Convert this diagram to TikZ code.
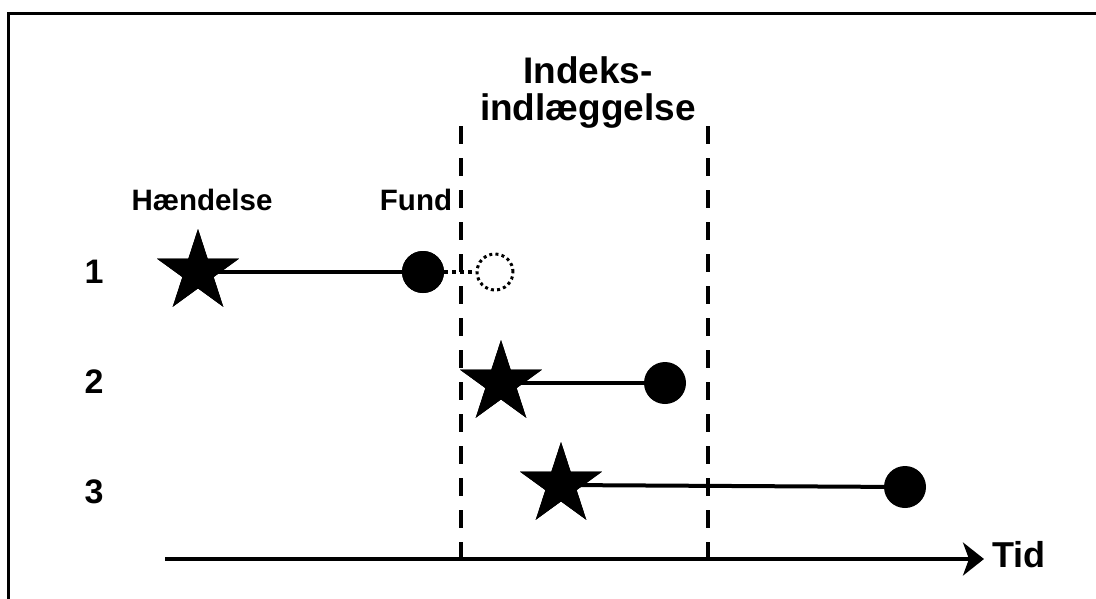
\documentclass[tikz,border=0pt]{standalone}
\usepackage{fontspec}
\setmainfont{Liberation Sans}
\usetikzlibrary{shapes.geometric,arrows.meta}
\begin{document}
\begin{tikzpicture}[x=1pt,y=-1pt,
  event/.style={star,star points=5,star point ratio=2.618,fill=black,draw=none,inner sep=0pt,minimum size=86pt},
  found/.style={circle,fill=black,draw=none,inner sep=0pt,minimum size=42pt},
  ghost/.style={circle,draw=black,line width=3pt,dash pattern=on 3pt off 3.2pt,inner sep=0pt,minimum size=36pt},
  span/.style={line width=4pt},
  limit/.style={line width=4pt,dash pattern=on 18pt off 14pt},
  lbl/.style={anchor=base,inner sep=0pt},
  headfont/.style={font=\bfseries\fontsize{29.5}{29.5}\selectfont},
  rowfont/.style={font=\bfseries\fontsize{34}{34}\selectfont},
  idxfont/.style={font=\bfseries\fontsize{37}{37}\selectfont},
]
\useasboundingbox (0,0) rectangle (1096,598);
% frame
\draw[line width=3pt] (8,610) -- (8,13) -- (1110,13);

% window of the index admission
\coordinate (lt) at (461,126);
\coordinate (lb) at (461,562);
\coordinate (rt) at (708,126);
\coordinate (rb) at (708,562);
\draw[limit] (lt) -- (lb);
\draw[limit] (rt) -- (rb);

% time axis
\coordinate (t0) at (165,559);
\coordinate (t1) at (984,559);
\draw[line width=4pt,-{Stealth[length=21pt,width=33pt,inset=6pt]}] (t0) -- (t1);
\node[lbl,font=\bfseries\fontsize{36}{36}\selectfont] (tid) at (1019,567) {Tid};

% headings
\node[lbl,headfont] (haend) at (202,210) {Hændelse};
\node[lbl,headfont] (fund) at (416,210) {Fund};
\node[lbl,idxfont] (idx1) at (588,83) {Indeks-};
\node[lbl,idxfont] (idx2) at (588,120) {indlæggelse};

% row labels
\node[lbl,rowfont] (n1) at (94,283) {1};
\node[lbl,rowfont] (n2) at (94,393) {2};
\node[lbl,rowfont] (n3) at (94,503) {3};

% case 1
\node[event] (s1) at (198,272) {};
\node[found] (c1) at (423,272) {};
\node[ghost] (g1) at (495,272) {};
\draw[span] (s1.center) -- (c1.center);
\draw[line width=4pt,dash pattern=on 4pt off 4pt] (c1) -- (g1);
\node[event] at (198,272) {};
\node[found] at (423,272) {};

% case 2
\node[event] (s2) at (501,383) {};
\node[found] (c2) at (665,383) {};
\draw[span] (s2.center) -- (c2.center);
\node[event] at (501,383) {};

% case 3
\node[event] (s3) at (561,485) {};
\node[found] (c3) at (905,487) {};
\draw[span] (s3.center) -- (c3.center);
\node[event] at (561,485) {};
\end{tikzpicture}
\end{document}
